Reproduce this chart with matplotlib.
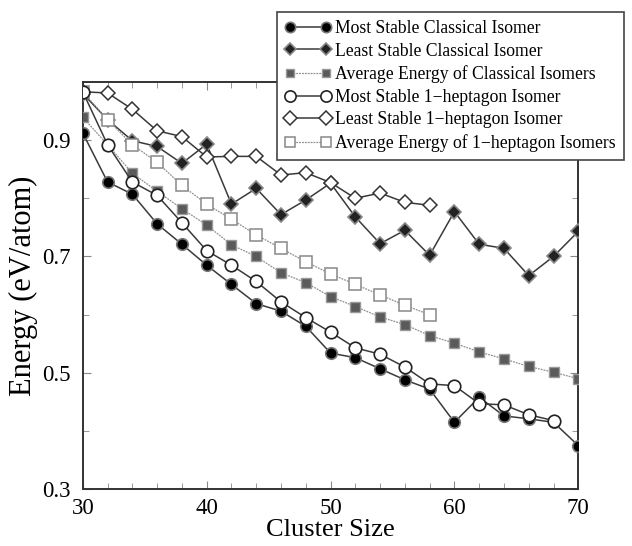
import matplotlib
matplotlib.use("Agg")
import matplotlib.pyplot as plt
from matplotlib.ticker import MultipleLocator

plt.rcParams['font.family'] = ['Liberation Serif', 'DejaVu Serif']

x_cl = [30, 32, 34, 36, 38, 40, 42, 44, 46, 48, 50, 52, 54, 56, 58, 60, 62, 64, 66, 68, 70]
most_classical = [0.912, 0.828, 0.807, 0.756, 0.721, 0.685, 0.652, 0.619, 0.606, 0.580, 0.534,
                  0.526, 0.507, 0.488, 0.472, 0.415, 0.458, 0.426, 0.421, 0.415, 0.375]
least_classical = [0.980, 0.935, 0.899, 0.889, 0.860, 0.893, 0.790, 0.817, 0.772, 0.797, 0.826,
                   0.768, 0.722, 0.745, 0.702, 0.777, 0.721, 0.714, 0.667, 0.700, 0.743]
avg_classical = [0.939, 0.892, 0.843, 0.812, 0.782, 0.754, 0.720, 0.700, 0.672, 0.655, 0.631,
                 0.614, 0.596, 0.583, 0.564, 0.551, 0.536, 0.524, 0.511, 0.501, 0.490]

x_h_most = [30, 32, 34, 36, 38, 40, 42, 44, 46, 48, 50, 52, 54, 56, 58, 60, 62, 64, 66, 68]
most_hept = [0.983, 0.892, 0.828, 0.805, 0.758, 0.710, 0.685, 0.657, 0.622, 0.595, 0.570,
             0.543, 0.532, 0.510, 0.481, 0.478, 0.447, 0.445, 0.428, 0.418]

x_h = [30, 32, 34, 36, 38, 40, 42, 44, 46, 48, 50, 52, 54, 56, 58]
least_hept = [0.983, 0.981, 0.953, 0.916, 0.906, 0.871, 0.872, 0.872, 0.840, 0.844, 0.827,
              0.800, 0.809, 0.793, 0.788]
avg_hept = [0.983, 0.935, 0.892, 0.862, 0.822, 0.790, 0.764, 0.737, 0.714, 0.691, 0.670,
            0.652, 0.634, 0.616, 0.600]

labels = ["Most Stable Classical Isomer", "Least Stable Classical Isomer",
          "Average Energy of Classical Isomers", "Most Stable 1\u2212heptagon Isomer",
          "Least Stable 1\u2212heptagon Isomer", "Average Energy of 1\u2212heptagon Isomers"]

fig = plt.figure(figsize=(6.32, 5.46), dpi=100)
ax = fig.add_axes([0.131, 0.104, 0.784, 0.746])

solid = dict(color='#3a3a3a', lw=1.1)
dot = dict(color='#909090', lw=0.9, ls=(0, (1.5, 0.8)))

h1, = ax.plot(x_cl, most_classical, marker='o', ms=8.3, mfc='black', mec='#777777', mew=1.2,
              label=labels[0], zorder=6, **solid)
h2, = ax.plot(x_cl, least_classical, marker='D', ms=7, mfc='#222222', mec='#888888', mew=1.2,
              label=labels[1], zorder=5, **solid)
h3, = ax.plot(x_cl, avg_classical, marker='s', ms=7, mfc='#5a5a5a', mec='#999999', mew=1.0,
              label=labels[2], zorder=4, **dot)
h4, = ax.plot(x_h_most, most_hept, marker='o', ms=9, mfc='white', mec='#222222', mew=1.2,
              label=labels[3], zorder=7, **solid)
h5, = ax.plot(x_h, least_hept, marker='D', ms=7.5, mfc='white', mec='#333333', mew=1.1,
              label=labels[4], zorder=6, **solid)
h6, = ax.plot(x_h, avg_hept, marker='s', ms=8, mfc='white', mec='#888888', mew=1.1,
              label=labels[5], zorder=5, **dot)

ax.set_xlim(30, 70)
ax.set_ylim(0.3, 1.0)
ax.xaxis.set_major_locator(MultipleLocator(10))
ax.xaxis.set_minor_locator(MultipleLocator(2))
ax.yaxis.set_minor_locator(MultipleLocator(0.1))
ax.set_yticks([0.3, 0.5, 0.7, 0.9])
ax.set_yticklabels(["0.3", "0.5", "0.7", "0.9"])
ax.tick_params(which='both', direction='in', top=True, right=True, labelsize=16.5,
               color='#888888')
ax.tick_params(axis='x', which='both', pad=6)
ax.tick_params(axis='y', which='both', pad=9)
ax.tick_params(which='major', length=6)
ax.tick_params(which='minor', length=4)
for s in ax.spines.values():
    s.set_linewidth(1.4)
    s.set_color('#333333')

ax.set_xlabel("Cluster Size", fontsize=19, labelpad=0)
ax.set_ylabel("Energy (eV/atom)", fontsize=22, labelpad=3)

leg = fig.legend(handles=[h1, h2, h3, h4, h5, h6], loc='upper left',
                 bbox_to_anchor=(277 / 632, 1 - 12 / 546), fontsize=12.7,
                 frameon=True, fancybox=False, edgecolor='#444444', framealpha=1,
                 numpoints=2, handlelength=2.6, handletextpad=0.25, labelspacing=0.32,
                 borderpad=0.45, borderaxespad=0, markerscale=0.9)
leg.get_frame().set_linewidth(1.2)
leg.set_zorder(10)

fig.savefig("out.png", dpi=100)
